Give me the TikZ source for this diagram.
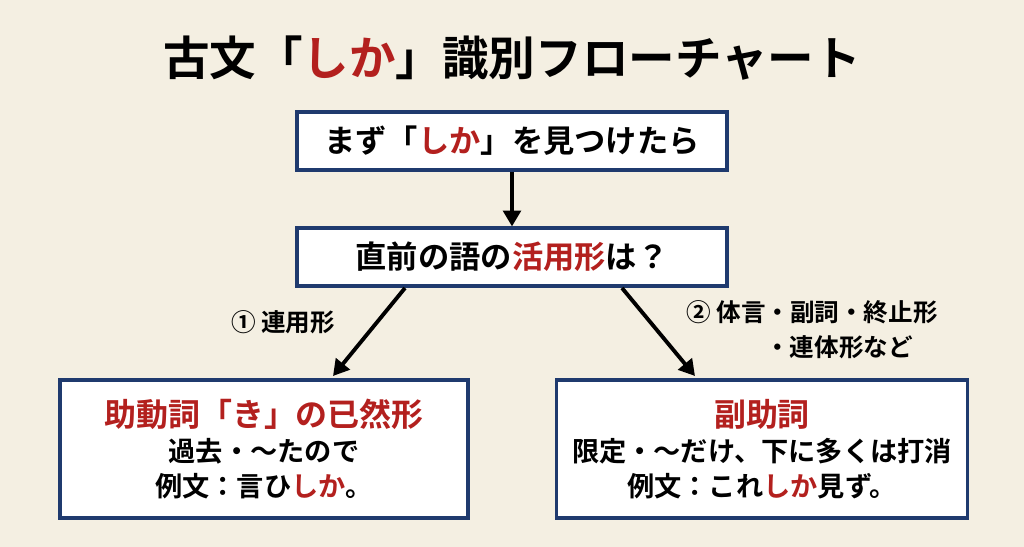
\documentclass[tikz,border=0pt]{standalone}
\usepackage{fontspec}
\setmainfont{Noto Sans CJK JP}[BoldFont={* Bold}]
\usetikzlibrary{arrows.meta,positioning}
\definecolor{paper}{HTML}{F4EFE2}
\definecolor{navy}{HTML}{1F3A6E}
\definecolor{accent}{HTML}{B3201E}
\newcommand{\hl}[1]{\textcolor{accent}{#1}}
\tikzset{
  flowbox/.style={draw=navy, line width=1.8pt, fill=white, align=center, font=\bfseries},
  flowarrow/.style={-{Triangle[length=9pt,width=10pt]}, line width=2.2pt, black},
  branchlabel/.style={font=\bfseries\fontsize{14}{20}\selectfont, align=center}
}
\begin{document}
\begin{tikzpicture}[x=0.02cm,y=-0.02cm]
\fill[paper] (0,0) rectangle (1024,547);
%%% title
\node (title) at (512,58) {\bfseries\fontsize{26.5}{30}\selectfont 古文「\hl{しか}」識別フローチャート};
%%% the two question boxes
\node[flowbox, minimum width=430*0.02cm, minimum height=58*0.02cm, font=\bfseries\fontsize{17.8}{20}\selectfont] (start) at (512,141) {まず「\hl{しか}」を見つけたら};
\node[flowbox, minimum width=430*0.02cm, minimum height=58*0.02cm, font=\bfseries\fontsize{17.8}{20}\selectfont] (ask) at (512,257) {直前の語の\hl{活用形}は？};
%%% the two answer boxes
\node[flowbox, minimum width=408*0.02cm, minimum height=138*0.02cm] (aux) at (264,449)
  {{\fontsize{18.2}{23}\selectfont\hl{助動詞「き」の已然形}}\\[4pt]
   {\fontsize{15.5}{22}\selectfont 過去・〜たので}\\[4pt]
   {\fontsize{15.5}{22}\selectfont 例文：言ひ\hl{しか}。}};
\node[flowbox, minimum width=411*0.02cm, minimum height=138*0.02cm] (adv) at (762,449)
  {{\fontsize{18.2}{23}\selectfont\hl{副助詞}}\\[4pt]
   {\fontsize{15.5}{22}\selectfont 限定・〜だけ、下に多くは打消}\\[4pt]
   {\fontsize{15.5}{22}\selectfont 例文：これ\hl{しか}見ず。}};
%%% connectors
\draw[flowarrow] (start) -- (ask);
\coordinate (leftfrom) at (405,288);
\coordinate (rightfrom) at (622,288);
\draw[flowarrow] (leftfrom) -- (333,376);
\draw[flowarrow] (rightfrom) -- (695,376);
%%% branch labels
\node[branchlabel] (lab1) at (283,322) {① 連用形};
\node[branchlabel] (lab2) at (812,330) {② 体言・副詞・終止形\\\hspace*{2.2em}・連体形など};
\end{tikzpicture}
\end{document}
